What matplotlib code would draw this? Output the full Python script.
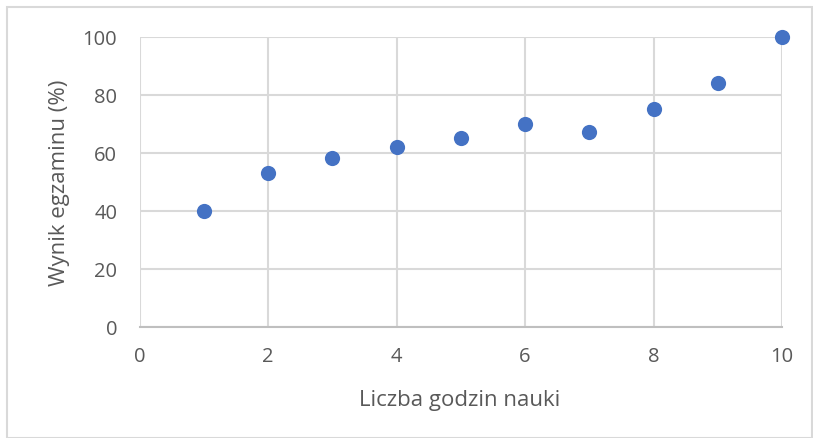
import matplotlib
matplotlib.use("Agg")
import matplotlib.pyplot as plt
from matplotlib.patches import Rectangle

hours = [1, 2, 3, 4, 5, 6, 7, 8, 9, 10]
scores = [40, 53, 58, 62, 65, 70, 67, 75, 84, 100]
xticks = [0, 2, 4, 6, 8, 10]
yticks = [0, 20, 40, 60, 80, 100]

plt.rcParams['font.family'] = ['Open Sans', 'DejaVu Sans']
W, H = 813, 439
fig = plt.figure(figsize=(W/100, H/100), dpi=100)
ax = fig.add_axes([139.5/W, 1-327.5/H, (782-139.5)/W, (327.5-37.5)/H])

grid_c = '#d9d9d9'
ax.set_xlim(0, 10)
ax.set_ylim(0, 100)
ax.set_xticks(xticks)
ax.set_yticks(yticks)
ax.grid(True, color=grid_c, linewidth=1.5)
ax.set_axisbelow(True)
for s in ['top', 'right', 'left']:
    ax.spines[s].set_visible(False)
ax.spines['bottom'].set_color('#bfbfbf')
ax.spines['bottom'].set_linewidth(1.5)
ax.tick_params(length=0, labelsize=14.5, colors='#595959')
ax.tick_params(axis='x', pad=14)
ax.tick_params(axis='y', pad=16)

ax.scatter(hours, scores, s=120, color='#4472C4', zorder=3, clip_on=False, linewidths=0)

fig.text(460/W, 1-406/H, 'Liczba godzin nauki', fontsize=16, color='#595959',
         ha='center', va='baseline')
fig.text(59/W, 1-182.5/H, 'Wynik egzaminu (%)', fontsize=16, color='#595959',
         ha='center', va='center', rotation=90)

fig.patches.append(Rectangle((7/W, 0), 1-7/W-0.001, 1-8/H, transform=fig.transFigure,
                             fill=False, edgecolor='#d9d9d9', linewidth=1.5))

fig.savefig('out.png', dpi=100)
